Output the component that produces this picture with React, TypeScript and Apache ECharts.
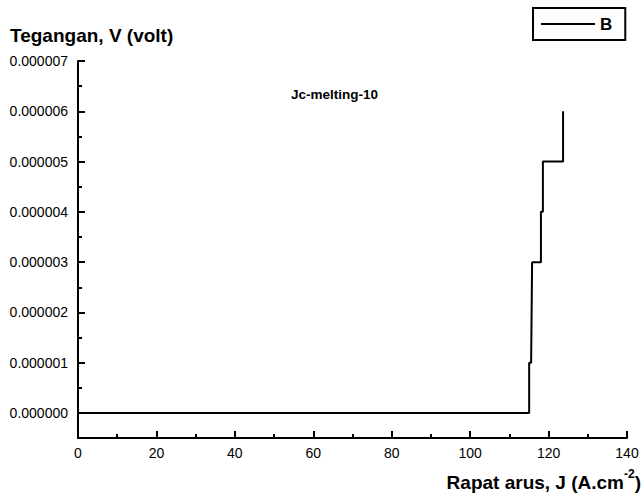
import React, { useEffect, useRef } from "react";
import * as echarts from "echarts";

// Data
const currentDensity = [0, 115.05, 115.05, 115.55, 115.8, 118.05, 118.05, 118.55, 118.55, 123.7, 123.7];
const voltage = [0, 0, 0.000001, 0.000001, 0.000003, 0.000003, 0.000004, 0.000004, 0.000005, 0.000005, 0.000006];
const xMin = 0;
const xMax = 140;
const xStep = 20;
const yMin = 0;
const yMax = 0.000007;
const yStep = 0.000001;
const yAxisBottom = -0.0000005;
const seriesName = "B";
const yTitle = "Tegangan, V (volt)";
const sampleLabel = "Jc-melting-10";

const FONT = "Liberation Sans, Arial, sans-serif";

export default function App() {
  const ref = useRef<HTMLDivElement>(null);
  useEffect(() => {
    if (!ref.current) return;
    const chart = echarts.init(ref.current, undefined, { renderer: "svg" });
    const data = currentDensity.map((x, i) => [x, voltage[i]]);
    const black = "#000";
    chart.setOption({
      animation: false,
      backgroundColor: "#ffffff",
      grid: [
        { left: 78, right: 17, top: 61, bottom: 58, containLabel: false },
        { left: 78, right: 17, top: 61, bottom: 83, containLabel: false },
      ],
      legend: {
        data: [{ name: seriesName, icon: "rect" }],
        left: 533,
        top: 8,
        itemWidth: 54,
        itemHeight: 2,
        itemGap: 0,
        padding: [6, 13, 6, 8],
        borderColor: black,
        borderWidth: 2,
        borderRadius: 0,
        textStyle: { fontFamily: FONT, fontSize: 17, fontWeight: "bold", color: black, lineHeight: 20 },
      },
      xAxis: [
        {
          type: "value",
          gridIndex: 0,
          min: xMin,
          max: xMax,
          interval: xStep,
          axisLine: { show: true, onZero: false, lineStyle: { color: black, width: 2 } },
          axisTick: { show: true, inside: true, length: 7, lineStyle: { color: black, width: 2 } },
          minorTick: { show: true, splitNumber: 2, length: 4, lineStyle: { color: black, width: 2 } },
          axisLabel: { color: black, fontSize: 14, fontFamily: FONT, margin: 8 },
          splitLine: { show: false },
        },
        {
          type: "value",
          gridIndex: 1,
          min: xMin,
          max: xMax,
          interval: xStep,
          axisLine: { show: false },
          axisTick: { show: false },
          axisLabel: { show: false },
          splitLine: { show: false },
        },
      ],
      yAxis: [
        {
          type: "value",
          gridIndex: 0,
          min: yAxisBottom,
          max: yMax,
          axisLine: { show: true, onZero: false, lineStyle: { color: black, width: 2 } },
          axisTick: { show: false },
          axisLabel: { show: false },
          splitLine: { show: false },
        },
        {
          type: "value",
          gridIndex: 1,
          min: yMin,
          max: yMax,
          interval: yStep,
          axisLine: { show: false, onZero: false },
          axisTick: { show: true, inside: true, length: 7, lineStyle: { color: black, width: 2 } },
          minorTick: { show: true, splitNumber: 2, length: 4, lineStyle: { color: black, width: 2 } },
          axisLabel: {
            color: black,
            fontSize: 14,
            fontFamily: FONT,
            margin: 10,
            formatter: (v: number) => v.toFixed(6),
          },
          splitLine: { show: false },
        },
      ],
      graphic: [
        {
          type: "text",
          left: 10,
          top: 26,
          style: { text: yTitle, fontFamily: FONT, fontSize: 19, fontWeight: "bold", fill: black },
        },
        {
          type: "text",
          left: 291,
          top: 87,
          style: { text: sampleLabel, fontFamily: FONT, fontSize: 13.5, fontWeight: "bold", fill: black },
        },
        {
          type: "text",
          right: 3,
          top: 468,
          style: {
            text: "{a|Rapat arus, J (A.cm}{s|-2}{a|)}",
            fill: black,
            rich: {
              a: { fontFamily: FONT, fontSize: 19, fontWeight: "bold", fill: black, lineHeight: 24, verticalAlign: "bottom" },
              s: { fontFamily: FONT, fontSize: 12, fontWeight: "bold", fill: black, lineHeight: 14, verticalAlign: "top" },
            },
          },
        },
      ],
      series: [
        {
          name: seriesName,
          type: "line",
          xAxisIndex: 1,
          yAxisIndex: 1,
          data,
          showSymbol: false,
          symbol: "none",
          clip: false,
          lineStyle: { color: black, width: 2 },
          itemStyle: { color: black },
        },
      ],
    });
    return () => chart.dispose();
  }, []);
  return (
    <div
      ref={ref}
      style={{ position: "fixed", left: 0, top: 0, width: 644, height: 496, background: "#fff" }}
    />
  );
}
